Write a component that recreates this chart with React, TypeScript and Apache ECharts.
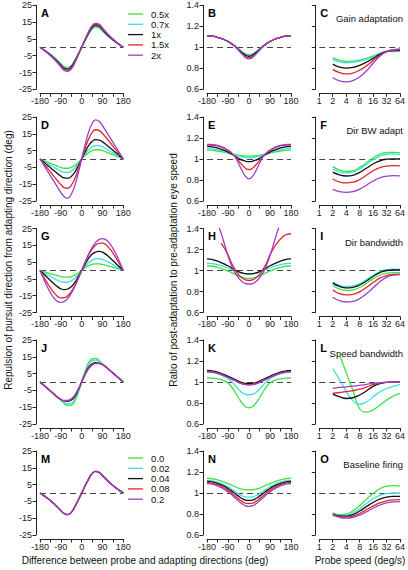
import React, { useEffect, useRef } from 'react';
import * as echarts from 'echarts';

const FONT = 'Liberation Sans, Arial, Helvetica, sans-serif';
const COLORS = ['#3fe23f', '#3ddfe6', '#111111', '#e3242b', '#9b3fc9'];
const LEGEND_GAIN = ['0.5x', '0.7x', '1x', '1.5x', '2x'];
const LEGEND_BASE = ['0.0', '0.02', '0.04', '0.08', '0.2'];

const ANGLES = [-180, -165, -150, -135, -120, -105, -90, -75, -60, -45, -30, -15, 0, 15, 30, 45, 60, 75, 90, 105, 120, 135, 150, 165, 180];
const SPEEDS = [2, 2.83, 4, 5.66, 8, 11.31, 16, 22.63, 32, 45.25, 64];
const ANGLE_TICKS_Y = { min: -25, max: 25, interval: 10 };

// Column 1: repulsion (deg)
const A_green = [0,-1.3,-2.7,-4.2,-5.8,-7.6,-9.6,-11.5,-12,-10.8,-7.8,-4,0,4,7.8,10.8,12,11.5,9.6,7.6,5.8,4.2,2.7,1.3,0];
const A_cyan = [0,-1.4,-2.8,-4.3,-6,-7.9,-10,-11.9,-12.4,-11.1,-8,-4.1,0,4.1,8,11.1,12.4,11.9,10,7.9,6,4.3,2.8,1.4,0];
const A_black = [0,-1.4,-2.9,-4.5,-6.3,-8.3,-10.5,-12.5,-13,-11.6,-8.4,-4.3,0,4.3,8.4,11.6,13,12.5,10.5,8.3,6.3,4.5,2.9,1.4,0];
const A_red = [0,-1.5,-3.1,-4.8,-6.7,-8.8,-11.1,-13.2,-13.7,-12.3,-8.9,-4.6,0,4.6,8.9,12.3,13.7,13.2,11.1,8.8,6.7,4.8,3.1,1.5,0];
const A_purple = [0,-1.6,-3.2,-5,-7,-9.2,-11.6,-13.8,-14.3,-12.9,-9.4,-4.9,0,4.9,9.4,12.9,14.3,13.8,11.6,9.2,7,5,3.2,1.6,0];

const D_green = [0,-0.9,-1.7,-2.6,-3.4,-4.3,-5,-5.5,-5.5,-5,-3.8,-2,0,2,3.8,5,5.5,5.5,5,4.3,3.4,2.6,1.7,0.9,0];
const D_cyan = [0,-1.2,-2.5,-3.7,-4.9,-6.1,-7.2,-7.9,-8,-7.2,-5.5,-2.9,0,2.9,5.5,7.2,8,7.9,7.2,6.1,4.9,3.7,2.5,1.2,0];
const D_black = [0,-1.7,-3.5,-5.2,-6.9,-8.6,-10.2,-11.3,-11.5,-10.4,-7.9,-4.2,0,4.2,7.9,10.4,11.5,11.3,10.2,8.6,6.9,5.2,3.5,1.7,0];
const D_red = [0,-2.6,-5.1,-7.7,-10.3,-12.8,-15.2,-17,-17.4,-15.7,-11.9,-6.3,0,6.3,11.9,15.7,17.4,17,15.2,12.8,10.3,7.7,5.1,2.6,0];
const D_purple = [0,-3.4,-6.7,-10,-13.3,-16.6,-19.8,-22.5,-23.3,-21,-16,-8.5,0,8.5,16,21,23.3,22.5,19.8,16.6,13.3,10,6.7,3.4,0];

const G_green = [0,-0.6,-1.2,-1.9,-2.5,-3.1,-3.6,-3.9,-4,-3.7,-2.9,-1.6,0,1.6,2.9,3.7,4,3.9,3.6,3.1,2.5,1.9,1.2,0.6,0];
const G_cyan = [0,-1.2,-2.3,-3.5,-4.7,-5.8,-6.6,-7,-6.9,-6.2,-4.7,-2.6,0,2.6,4.7,6.2,6.9,7,6.6,5.8,4.7,3.5,2.3,1.2,0];
const G_black = [0,-1.9,-3.9,-5.9,-7.9,-9.6,-10.9,-11.4,-11,-9.7,-7.2,-3.8,0,3.8,7.2,9.7,11,11.4,10.9,9.6,7.9,5.9,3.9,1.9,0];
const G_red = [0,-3.6,-7.1,-10.4,-13.2,-15.3,-16.3,-16.2,-15,-12.6,-9.2,-4.8,0,4.8,9.2,12.6,15,16.2,16.3,15.3,13.2,10.4,7.1,3.6,0];
const G_purple = [0,-4.8,-9.3,-13.2,-16.3,-18.3,-19,-18.4,-16.6,-13.6,-9.7,-5,0,5,9.7,13.6,16.6,18.4,19,18.3,16.3,13.2,9.3,4.8,0];

const J_green = [0,-1.8,-3.6,-5.4,-7.2,-9,-10.8,-12.8,-14,-13.8,-11.5,-6.5,0,6.5,11.5,13.8,14,12.8,10.8,9,7.2,5.4,3.6,1.8,0];
const J_cyan = [0,-1.8,-3.6,-5.4,-7.2,-9,-10.7,-12.3,-13,-12.7,-10.3,-5.8,0,5.8,10.3,12.7,13,12.3,10.7,9,7.2,5.4,3.6,1.8,0];
const J_black = [0,-1.8,-3.6,-5.4,-7.2,-8.9,-10.4,-11.3,-11.5,-10.9,-8.8,-4.8,0,4.8,8.8,10.9,11.5,11.3,10.4,8.9,7.2,5.4,3.6,1.8,0];
const J_red = [0,-1.8,-3.6,-5.4,-7.2,-8.9,-10.3,-11.1,-11.1,-10.3,-8.2,-4.5,0,4.5,8.2,10.3,11.1,11.1,10.3,8.9,7.2,5.4,3.6,1.8,0];
const J_purple = [0,-1.8,-3.6,-5.4,-7.2,-8.9,-10.3,-11,-10.9,-10,-7.8,-4.2,0,4.2,7.8,10,10.9,11,10.3,8.9,7.2,5.4,3.6,1.8,0];

const M_all = [0,-1.4,-2.9,-4.5,-6.3,-8.3,-10.4,-12.3,-12.9,-11.5,-8.3,-4.3,0,4.3,8.3,11.5,12.9,12.3,10.4,8.3,6.3,4.5,2.9,1.4,0];

// Column 2: speed ratio vs direction
const B_green = [1.11,1.108,1.103,1.095,1.085,1.072,1.055,1.035,1.012,0.985,0.958,0.937,0.93,0.937,0.958,0.985,1.012,1.035,1.055,1.072,1.085,1.095,1.103,1.108,1.11];
const B_cyan = [1.11,1.108,1.103,1.095,1.085,1.072,1.055,1.035,1.011,0.983,0.955,0.933,0.925,0.933,0.955,0.983,1.011,1.035,1.055,1.072,1.085,1.095,1.103,1.108,1.11];
const B_black = [1.11,1.108,1.103,1.095,1.085,1.072,1.055,1.035,1.01,0.98,0.95,0.925,0.915,0.925,0.95,0.98,1.01,1.035,1.055,1.072,1.085,1.095,1.103,1.108,1.11];
const B_red = [1.11,1.108,1.103,1.095,1.085,1.072,1.055,1.035,1.008,0.975,0.94,0.912,0.9,0.912,0.94,0.975,1.008,1.035,1.055,1.072,1.085,1.095,1.103,1.108,1.11];
const B_purple = [1.11,1.108,1.103,1.095,1.085,1.072,1.055,1.035,1.006,0.972,0.935,0.903,0.89,0.903,0.935,0.972,1.006,1.035,1.055,1.072,1.085,1.095,1.103,1.108,1.11];

const E_green = [1.085,1.084,1.08,1.076,1.07,1.064,1.057,1.05,1.043,1.037,1.031,1.028,1.027,1.028,1.031,1.037,1.043,1.05,1.057,1.064,1.07,1.076,1.08,1.084,1.085];
const E_cyan = [1.1,1.098,1.094,1.088,1.08,1.07,1.06,1.05,1.04,1.03,1.02,1.013,1.01,1.013,1.02,1.03,1.04,1.05,1.06,1.07,1.08,1.088,1.094,1.098,1.1];
const E_black = [1.12,1.118,1.113,1.105,1.095,1.082,1.066,1.047,1.027,1.007,0.99,0.979,0.975,0.979,0.99,1.007,1.027,1.047,1.066,1.082,1.095,1.105,1.113,1.118,1.12];
const E_red = [1.135,1.133,1.13,1.125,1.115,1.1,1.08,1.055,1.025,0.985,0.945,0.912,0.9,0.912,0.945,0.985,1.025,1.055,1.08,1.1,1.115,1.125,1.13,1.133,1.135];
const E_purple = [1.14,1.14,1.135,1.13,1.12,1.105,1.085,1.06,1.02,0.96,0.89,0.835,0.81,0.835,0.89,0.96,1.02,1.06,1.085,1.105,1.12,1.13,1.135,1.14,1.14];

const H_green = [1.045,1.043,1.038,1.03,1.02,1.008,0.995,0.98,0.965,0.95,0.937,0.928,0.925,0.928,0.937,0.95,0.965,0.98,0.995,1.008,1.02,1.03,1.038,1.043,1.045];
const H_cyan = [1.07,1.068,1.063,1.056,1.047,1.036,1.023,1.01,0.997,0.985,0.975,0.968,0.965,0.968,0.975,0.985,0.997,1.01,1.023,1.036,1.047,1.056,1.063,1.068,1.07];
const H_black = [1.11,1.108,1.1,1.09,1.075,1.06,1.045,1.025,1.005,0.99,0.977,0.97,0.968,0.97,0.977,0.99,1.005,1.025,1.045,1.06,1.075,1.09,1.1,1.108,1.11];
const H_red = [null,null,null,null,1.26,1.21,1.15,1.07,1.01,0.96,0.93,0.91,0.905,0.91,0.93,0.96,1.01,1.07,1.15,1.21,1.26,1.3,1.33,1.345,1.35];
const H_purple = [1.75,1.65,1.55,1.45,1.36,1.25,1.14,1.05,0.98,0.93,0.895,0.875,0.87,0.875,0.895,0.93,0.98,1.05,1.14,1.25,1.36,1.45,1.55,1.65,1.75];

const K_green = [1.04,1.038,1.035,1.03,1.022,1.01,0.99,0.955,0.905,0.85,0.8,0.765,0.755,0.765,0.8,0.85,0.905,0.955,0.99,1.01,1.022,1.03,1.035,1.038,1.04];
const K_cyan = [1.095,1.093,1.088,1.08,1.068,1.052,1.032,1.005,0.97,0.932,0.9,0.882,0.877,0.882,0.9,0.932,0.97,1.005,1.032,1.052,1.068,1.08,1.088,1.093,1.095];
const K_black = [1.11,1.108,1.102,1.094,1.083,1.07,1.055,1.04,1.024,1.008,0.995,0.987,0.985,0.987,0.995,1.008,1.024,1.04,1.055,1.07,1.083,1.094,1.102,1.108,1.11];
const K_red = [1.1,1.098,1.092,1.084,1.073,1.06,1.045,1.03,1.014,0.998,0.985,0.977,0.975,0.977,0.985,0.998,1.014,1.03,1.045,1.06,1.073,1.084,1.092,1.098,1.1];
const K_purple = [1.1,1.097,1.091,1.083,1.072,1.058,1.043,1.028,1.012,0.996,0.983,0.975,0.973,0.975,0.983,0.996,1.012,1.028,1.043,1.058,1.072,1.083,1.091,1.097,1.1];

const N_green = [1.14,1.138,1.133,1.125,1.115,1.103,1.09,1.075,1.06,1.047,1.037,1.031,1.03,1.031,1.037,1.047,1.06,1.075,1.09,1.103,1.115,1.125,1.133,1.138,1.14];
const N_cyan = [1.12,1.118,1.112,1.103,1.091,1.076,1.058,1.037,1.014,0.992,0.974,0.963,0.96,0.963,0.974,0.992,1.014,1.037,1.058,1.076,1.091,1.103,1.112,1.118,1.12];
const N_black = [1.11,1.108,1.102,1.092,1.079,1.063,1.043,1.02,0.995,0.97,0.948,0.933,0.93,0.933,0.948,0.97,0.995,1.02,1.043,1.063,1.079,1.092,1.102,1.108,1.11];
const N_red = [1.1,1.097,1.09,1.079,1.065,1.047,1.025,1,0.972,0.944,0.92,0.903,0.9,0.903,0.92,0.944,0.972,1,1.025,1.047,1.065,1.079,1.09,1.097,1.1];
const N_purple = [1.09,1.087,1.08,1.068,1.053,1.034,1.011,0.985,0.955,0.925,0.897,0.878,0.873,0.878,0.897,0.925,0.955,0.985,1.011,1.034,1.053,1.068,1.08,1.087,1.09];

// Column 3: speed ratio vs probe speed
const C_green = [0.9,0.877,0.866,0.868,0.878,0.895,0.918,0.942,0.962,0.96,0.958];
const C_cyan = [0.885,0.862,0.853,0.856,0.867,0.886,0.91,0.937,0.96,0.962,0.962];
const C_black = [0.84,0.812,0.802,0.808,0.828,0.858,0.895,0.932,0.96,0.968,0.97];
const C_red = [0.79,0.758,0.746,0.755,0.782,0.823,0.873,0.922,0.958,0.972,0.977];
const C_purple = [0.71,0.68,0.67,0.682,0.718,0.775,0.848,0.915,0.96,0.978,0.985];

const F_green = [0.927,0.895,0.882,0.89,0.92,0.965,1.01,1.045,1.062,1.064,1.06];
const F_cyan = [0.905,0.878,0.868,0.876,0.905,0.948,0.993,1.028,1.045,1.048,1.045];
const F_black = [0.875,0.848,0.838,0.845,0.872,0.912,0.952,0.983,0.998,1.002,1.0];
const F_red = [0.81,0.782,0.772,0.779,0.805,0.845,0.888,0.918,0.933,0.937,0.935];
const F_purple = [0.71,0.69,0.683,0.69,0.713,0.75,0.79,0.82,0.836,0.842,0.84];

const I_green = [0.857,0.823,0.81,0.815,0.838,0.877,0.92,0.955,0.975,0.98,0.98];
const I_cyan = [0.89,0.86,0.848,0.853,0.875,0.912,0.953,0.988,1.008,1.012,1.01];
const I_black = [0.88,0.848,0.835,0.84,0.862,0.9,0.943,0.98,1.0,1.005,1.005];
const I_red = [0.815,0.78,0.768,0.773,0.797,0.838,0.885,0.927,0.952,0.962,0.965];
const I_purple = [0.745,0.712,0.7,0.706,0.732,0.778,0.835,0.893,0.935,0.955,0.96];

const L_green = [null,1.26,1.09,0.92,0.745,0.713,0.735,0.778,0.827,0.866,0.892];
const L_cyan = [1.127,1.023,0.91,0.82,0.788,0.81,0.86,0.905,0.938,0.958,0.974];
const L_black = [0.885,0.86,0.843,0.85,0.876,0.915,0.958,0.984,0.997,1.0,1.0];
const L_red = [0.893,0.9,0.908,0.918,0.931,0.951,0.974,0.99,0.997,1.0,1.0];
const L_purple = [0.94,0.948,0.954,0.961,0.967,0.977,0.987,0.993,0.997,1.0,1.0];

const O_green = [0.81,0.795,0.8,0.83,0.88,0.94,0.995,1.04,1.065,1.07,1.065];
const O_cyan = [0.805,0.79,0.79,0.81,0.85,0.9,0.945,0.978,0.995,1.0,1.0];
const O_black = [0.8,0.782,0.78,0.795,0.828,0.87,0.91,0.942,0.96,0.967,0.968];
const O_red = [0.795,0.775,0.77,0.78,0.805,0.84,0.875,0.905,0.925,0.935,0.937];
const O_purple = [0.79,0.768,0.76,0.768,0.79,0.82,0.855,0.885,0.905,0.915,0.918];

type Panel = { letter: string; row: number; col: number; lines: (number | null)[][]; title?: string };

const PANELS: Panel[] = [
  { letter: 'A', row: 0, col: 0, lines: [A_green, A_cyan, A_black, A_red, A_purple] },
  { letter: 'B', row: 0, col: 1, lines: [B_green, B_cyan, B_black, B_red, B_purple] },
  { letter: 'C', row: 0, col: 2, lines: [C_green, C_cyan, C_black, C_red, C_purple], title: 'Gain adaptation' },
  { letter: 'D', row: 1, col: 0, lines: [D_green, D_cyan, D_black, D_red, D_purple] },
  { letter: 'E', row: 1, col: 1, lines: [E_green, E_cyan, E_black, E_red, E_purple] },
  { letter: 'F', row: 1, col: 2, lines: [F_green, F_cyan, F_black, F_red, F_purple], title: 'Dir BW adapt' },
  { letter: 'G', row: 2, col: 0, lines: [G_green, G_cyan, G_black, G_red, G_purple] },
  { letter: 'H', row: 2, col: 1, lines: [H_green, H_cyan, H_black, H_red, H_purple] },
  { letter: 'I', row: 2, col: 2, lines: [I_green, I_cyan, I_black, I_red, I_purple], title: 'Dir bandwidth' },
  { letter: 'J', row: 3, col: 0, lines: [J_green, J_cyan, J_black, J_red, J_purple] },
  { letter: 'K', row: 3, col: 1, lines: [K_green, K_cyan, K_black, K_red, K_purple] },
  { letter: 'L', row: 3, col: 2, lines: [L_green, L_cyan, L_black, L_red, L_purple], title: 'Speed bandwidth' },
  { letter: 'M', row: 4, col: 0, lines: [M_all, M_all, M_all, M_all, M_all] },
  { letter: 'N', row: 4, col: 1, lines: [N_green, N_cyan, N_black, N_red, N_purple] },
  { letter: 'O', row: 4, col: 2, lines: [O_green, O_cyan, O_black, O_red, O_purple], title: 'Baseline firing' },
];

const COL_L = [40, 207, 319.3];
const COL_W = [83.3, 84, 82.4];
const ROW_T = [5.3, 117, 228.5, 340, 451];
const ROW_H = 84;

export default function App() {
  const ref = useRef<HTMLDivElement>(null);
  useEffect(() => {
    const chart = echarts.init(ref.current!, null, { renderer: 'svg' });
    const axisLine = { show: true, onZero: false, lineStyle: { color: '#222', width: 1 } };
    const axisTick = { show: true, length: 3.5, lineStyle: { color: '#222', width: 1 } };
    const grid: any[] = [];
    const xAxis: any[] = [];
    const yAxis: any[] = [];
    const series: any[] = [];
    const graphic: any[] = [];

    PANELS.forEach((p, i) => {
      const left = COL_L[p.col];
      const top = ROW_T[p.row];
      grid.push({ left, top, width: COL_W[p.col], height: ROW_H });
      if (p.col < 2) {
        xAxis.push({
          gridIndex: i, type: 'value', min: -180, max: 180, interval: 45, offset: 4, position: 'bottom',
          axisLine, axisTick, splitLine: { show: false },
          axisLabel: { fontSize: 9, margin: 3, color: '#222', fontFamily: FONT,
            formatter: (v: number) => (v % 90 === 0 ? String(v) : '') },
        });
      } else {
        xAxis.push({
          gridIndex: i, type: 'log', logBase: 2, min: 1, max: 64, offset: 4, position: 'bottom',
          axisLine, axisTick, splitLine: { show: false }, minorTick: { show: false },
          axisLabel: { fontSize: 9, margin: 3, color: '#222', fontFamily: FONT,
            formatter: (v: number) => String(Math.round(v)) },
        });
      }
      const yr = p.col === 0 ? ANGLE_TICKS_Y : { min: 0.6, max: 1.4, interval: 0.2 };
      yAxis.push({
        gridIndex: i, type: 'value', ...yr, offset: 4, position: 'left',
        axisLine, axisTick, splitLine: { show: false },
        axisLabel: { show: p.col < 2, fontSize: 9, margin: 4, color: '#222', fontFamily: FONT,
          formatter: (v: number) => String(Math.round(v * 10) / 10) },
      });
      const xs = p.col < 2 ? ANGLES : SPEEDS;
      p.lines.forEach((vals, k) => {
        series.push({
          type: 'line', xAxisIndex: i, yAxisIndex: i, name: (p.row === 4 && p.col === 0) ? LEGEND_BASE[k] : LEGEND_GAIN[k],
          data: xs.map((x, j) => [x, vals[j]]),
          smooth: true, showSymbol: false, symbol: 'none', clip: true,
          lineStyle: { color: COLORS[k], width: 1.3 }, itemStyle: { color: COLORS[k] },
          z: 3 + k,
          markLine: k === 0 ? {
            silent: true, symbol: 'none', label: { show: false }, z: 2,
            lineStyle: { type: [6, 4], color: '#444', width: 1 },
            data: [{ yAxis: p.col === 0 ? 0 : 1 }],
          } : undefined,
        });
      });
      graphic.push({
        type: 'text', x: left + 1, y: top + 7.5,
        style: { text: p.letter, font: `bold 11px ${FONT}`, fill: '#000', verticalAlign: 'middle', align: 'left' },
      });
      if (p.title) {
        graphic.push({
          type: 'text', x: 403, y: top + 13.5,
          style: { text: p.title, font: `9.5px ${FONT}`, fill: '#111', verticalAlign: 'middle', align: 'right' },
        });
      }
    });

    const addLegend = (labels: string[], y0: number) => {
      labels.forEach((lab, k) => {
        const y = y0 + k * 10.3;
        graphic.push({ type: 'line', shape: { x1: 128, y1: y, x2: 143, y2: y }, style: { stroke: COLORS[k], lineWidth: 1.3 } });
        graphic.push({ type: 'text', x: 151, y, style: { text: lab, font: `9.5px ${FONT}`, fill: '#111', verticalAlign: 'middle', align: 'left' } });
      });
    };
    addLegend(LEGEND_GAIN, ROW_T[0] + 8.7);
    addLegend(LEGEND_BASE, ROW_T[4] + 7);

    graphic.push({
      type: 'text', x: 8, y: 260, rotation: Math.PI / 2,
      style: { text: 'Repulsion of pursuit direction from adapting direction (deg)', font: `10px ${FONT}`, fill: '#111', align: 'center', verticalAlign: 'middle' },
    });
    graphic.push({
      type: 'text', x: 173, y: 270, rotation: Math.PI / 2,
      style: { text: 'Ratio of post-adaptation to pre-adaptation eye speed', font: `10px ${FONT}`, fill: '#111', align: 'center', verticalAlign: 'middle' },
    });
    graphic.push({
      type: 'text', x: 145, y: 560,
      style: { text: 'Difference between probe and adapting directions (deg)', font: `10px ${FONT}`, fill: '#111', align: 'center', verticalAlign: 'middle' },
    });
    graphic.push({
      type: 'text', x: 360, y: 560,
      style: { text: 'Probe speed (deg/s)', font: `10px ${FONT}`, fill: '#111', align: 'center', verticalAlign: 'middle' },
    });

    chart.setOption({
      animation: false,
      backgroundColor: '#fff',
      textStyle: { fontFamily: FONT },
      grid, xAxis, yAxis, series, graphic,
    });
    return () => chart.dispose();
  }, []);
  return <div ref={ref} style={{ position: 'absolute', left: 0, top: 0, width: 408, height: 570 }} />;
}
